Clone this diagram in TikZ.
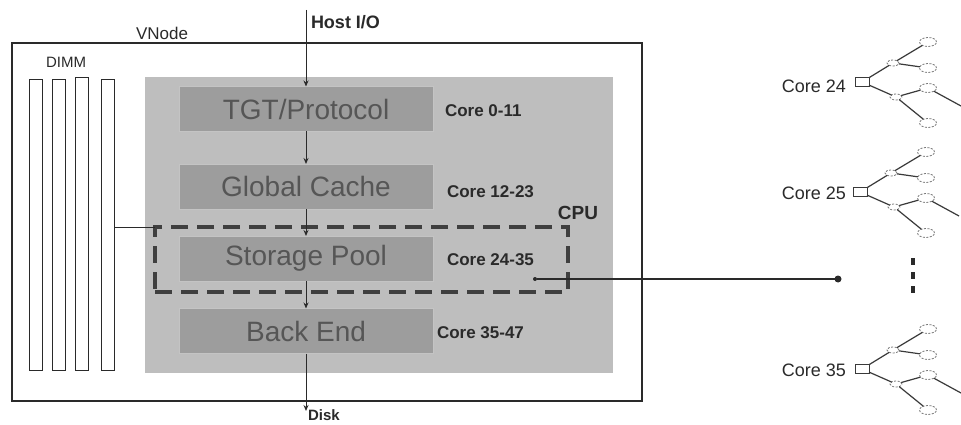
\documentclass[tikz,border=0pt]{standalone}
\usepackage{fontspec}
\setmainfont{Liberation Sans}
\usetikzlibrary{arrows.meta,shapes.geometric}
\definecolor{pkggray}{HTML}{BEBEBE}
\definecolor{boxgray}{HTML}{9D9D9D}
\definecolor{boxtext}{HTML}{565656}
\definecolor{ink}{HTML}{2A2A2A}
\definecolor{treeink}{HTML}{3A3A3A}
\tikzset{
  treeroot/.style={draw=treeink, line width=0.9pt, minimum width=14pt, minimum height=9pt},
  treemid/.style={ellipse, draw=treeink!70, line width=0.8pt, dash pattern=on 2pt off 1.5pt, minimum width=12pt, minimum height=6pt},
  treeleaf/.style={ellipse, draw=treeink!70, line width=0.8pt, dash pattern=on 2pt off 1.5pt, minimum width=17pt, minimum height=9pt},
  treeedge/.style={draw=treeink, line width=1.2pt},
  coretree/.pic={
    \node[treeroot] (-root) at (0,0) {};
    \node[treemid] (-a) at (31,-19) {};
    \node[treemid] (-b) at (34,15) {};
    \node[treeleaf] (-l1) at (66,-40) {};
    \node[treeleaf] (-l2) at (66,-14) {};
    \node[treeleaf] (-l3) at (66,6) {};
    \node[treeleaf] (-l4) at (66,41) {};
    \coordinate (-off) at (99,24);
    \draw[treeedge] (-root) -- (-a);
    \draw[treeedge] (-root) -- (-b);
    \draw[treeedge] (-a) -- (-l1);
    \draw[treeedge] (-a) -- (-l2);
    \draw[treeedge] (-b) -- (-l3);
    \draw[treeedge] (-b) -- (-l4);
    \draw[treeedge] (-l3) -- (-off);
  }
}
\begin{document}
\begin{tikzpicture}[x=1pt,y=-1pt,
  every node/.style={inner sep=0pt, outer sep=0pt},
  frame/.style={draw=ink, line width=1.2pt, minimum width=630pt, minimum height=358pt, anchor=north west},
  dimmbar/.style={draw=ink, line width=1pt, fill=white, minimum width=13pt, minimum height=290pt, anchor=north west},
  pkg/.style={fill=pkggray, minimum width=468pt, minimum height=296pt, anchor=north west},
  layer/.style={fill=boxgray, draw=boxgray!60!white, line width=0.8pt, minimum width=254pt, minimum height=45pt, text=boxtext, font=\fontsize{28}{28}\selectfont},
  corelbl/.style={anchor=west, font=\bfseries\fontsize{17}{17}\selectfont, text=ink},
  lbl/.style={font=\fontsize{17}{17}\selectfont, text=ink},
  boldlbl/.style={font=\bfseries\fontsize{18}{18}\selectfont, text=ink},
  treelbl/.style={anchor=east, font=\fontsize{18}{18}\selectfont, text=ink},
  flow/.style={draw=ink, line width=1pt, -{Stealth[length=6pt,width=5pt]}},
  cpudash/.style={draw=ink!90, line width=3.2pt, dash pattern=on 17pt off 9pt, minimum width=413pt, minimum height=65pt},
  link/.style={draw=ink, line width=1pt},
  bus/.style={draw=ink, line width=2pt},
  busdot/.style={circle, fill=ink, minimum size=7pt},
  busdotsmall/.style={circle, fill=ink, minimum size=4pt}
]
\useasboundingbox (0,0) rectangle (961,425);
\fill[white] (0,0) rectangle (961,425);

% VNode frame
\node[frame] (vnode) at (12,43) {};
\node[lbl] (vnodelbl) at (162,33) {VNode};
\node[lbl, font=\fontsize{15}{15}\selectfont] (dimmlbl) at (66,62) {DIMM};

% DIMM modules
\node[dimmbar] (dimm1) at (29,80) {};
\node[dimmbar] (dimm2) at (52,80) {};
\node[dimmbar, minimum height=292pt] (dimm3) at (75,78) {};
\node[dimmbar] (dimm4) at (101,80) {};

% CPU package
\node[pkg] (pkg) at (145,77) {};
\node[layer] (tgt) at (306,109) {TGT/Protocol};
\node[layer] (gc) at (306,186.5) {Global Cache};
\node[layer] (sp) at (306,258.5) {Storage Pool};
\node[layer] (be) at (306,331) {Back End};

\node[corelbl] (c0) at (445,111) {Core 0-11};
\node[corelbl] (c12) at (447,192) {Core 12-23};
\node[corelbl] (c24) at (447,260) {Core 24-35};
\node[corelbl] (c35) at (437,333) {Core 35-47};

% CPU dashed region
\node[cpudash] (cpu) at (361.5,259.5) {};
\node[boldlbl, font=\bfseries\fontsize{19}{19}\selectfont] (cpulbl) at (578,213) {CPU};

% DIMM link
\draw[link] (dimm4.east |- cpu.north west) -- (cpu.north west);

% I/O flow
\coordinate (hostin) at (306,10);
\coordinate (diskend) at (306,411);
\node[boldlbl, anchor=west] (hostlbl) at (311,22) {Host I/O};
\node[boldlbl, anchor=west, font=\bfseries\fontsize{15}{15}\selectfont] (disklbl) at (308,415) {Disk};
\draw[flow] (hostin) -- (tgt.north);
\draw[flow] (tgt) -- (gc);
\draw[flow] (gc) -- (sp);
\draw[flow] (sp) -- (be);
\draw[flow] (be.south) -- (diskend);

% bus to core trees
\node[busdotsmall] (busin) at (535,279) {};
\node[busdot] (busend) at (838,279) {};
\draw[bus] (busin) -- (busend);

% core trees
\node[treelbl] (t24lbl) at (846,86) {Core 24};
\node[treelbl] (t25lbl) at (846,193) {Core 25};
\node[treelbl] (t35lbl) at (846,370) {Core 35};
\pic (t24) at (862,82) {coretree};
\pic (t25) at (860,192) {coretree};
\pic (t35) at (862,369) {coretree};

% vertical ellipsis
\draw[ink, line width=3.5pt, dash pattern=on 7pt off 7pt] (913,258) -- (913,296);
\end{tikzpicture}
\end{document}
